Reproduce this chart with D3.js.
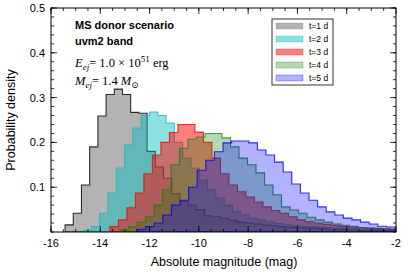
<!DOCTYPE html>
<html>
<head>
<meta charset="utf-8">
<script src="https://cdn.jsdelivr.net/npm/d3@7"></script>
<style>
body { margin: 0; background: #fff; }
text { font-family: "Liberation Sans", Arial, sans-serif; }
</style>
</head>
<body>
<svg id="chart" width="408" height="274"></svg>
<script>
var svg = d3.select('svg#chart');

// histogram data: first bin edge (mag), bin width (mag), densities
var labels = ["t=1 d", "t=2 d", "t=3 d", "t=4 d", "t=5 d"];
var starts = [-15.43, -14.70, -13.61, -13.20, -12.51];
var widths = [0.333, 0.337, 0.345, 0.345, 0.349];

var d1 = [0.016, 0.042, 0.105, 0.19, 0.259, 0.307, 0.319, 0.307, 0.267, 0.265,
          0.18, 0.145, 0.12, 0.085, 0.068, 0.06, 0.05, 0.036, 0.034, 0.03,
          0.026, 0.022, 0.02, 0.018, 0.016, 0.014, 0.012, 0.011, 0.01, 0.009,
          0.008, 0.007, 0.006, 0.006, 0.005, 0.005, 0.004, 0.004, 0.003, 0.003];
var d2 = [0.004, 0.012, 0.042, 0.087, 0.143, 0.194, 0.232, 0.26, 0.268, 0.26,
          0.243, 0.2, 0.165, 0.143, 0.116, 0.094, 0.076, 0.06, 0.045, 0.038,
          0.031, 0.027, 0.022, 0.019, 0.017, 0.015, 0.013, 0.012, 0.011, 0.01,
          0.009, 0.008, 0.007, 0.006, 0.006, 0.005, 0.005, 0.004];
var d3v = [0.012, 0.027, 0.054, 0.087, 0.13, 0.172, 0.2, 0.222, 0.24, 0.24,
           0.223, 0.2, 0.165, 0.13, 0.105, 0.09, 0.078, 0.067, 0.056, 0.048,
           0.042, 0.034, 0.027, 0.023, 0.02, 0.017, 0.015, 0.013, 0.011, 0.01,
           0.009, 0.008, 0.007, 0.006];
var d4 = [0.005, 0.012, 0.022, 0.034, 0.06, 0.094, 0.15, 0.187, 0.207, 0.212,
          0.22, 0.22, 0.21, 0.19, 0.165, 0.15, 0.132, 0.105, 0.083, 0.056,
          0.049, 0.042, 0.033, 0.027, 0.022, 0.018, 0.015, 0.013, 0.01, 0.008,
          0.007, 0.006, 0.005];
var d5 = [0.006, 0.012, 0.02, 0.038, 0.06, 0.071, 0.1, 0.138, 0.16, 0.179,
          0.199, 0.203, 0.203, 0.199, 0.183, 0.172, 0.156, 0.134, 0.107, 0.087,
          0.071, 0.056, 0.045, 0.038, 0.031, 0.027, 0.022, 0.018, 0.013, 0.011];
var dens = [d1, d2, d3v, d4, d5];

var xTicks = [-16, -14, -12, -10, -8, -6, -4, -2];
var yTicks = [0.1, 0.2, 0.3, 0.4, 0.5];

var fills = ["#808080", "#00bfbf", "#ff0000", "#008000", "#0000ff"];
var fillOp = [0.6, 0.45, 0.5, 0.3, 0.3];
var edges = ["#000000", "#20b8b8", "#ff0000", "#108810", "#0000ff"];

var pLeft = 51, pRight = 396, pTop = 8, pBottom = 232;
var x = d3.scaleLinear().domain([-16, -2]).range([pLeft, pRight]);
var y = d3.scaleLinear().domain([0, 0.5]).range([pBottom, pTop]);

svg.append('clipPath').attr('id', 'plotclip')
  .append('rect').attr('x', pLeft).attr('y', pTop)
  .attr('width', pRight - pLeft).attr('height', pBottom - pTop);

var g = svg.append('g').attr('clip-path', 'url(#plotclip)');

function step_path(start, w, vals){
    var pts = [[start, 0]];
    for (var i=0; i<vals.length; i+=1){
        pts.push([start + i * w, vals[i]]);
        pts.push([start + (i + 1) * w, vals[i]]);
    }
    pts.push([start + vals.length * w, 0]);
    return d3.line().x(function(d){ return x(d[0]); }).y(function(d){ return y(d[1]); })(pts) + 'Z';
}

for (var s=0; s<dens.length; s+=1){
    g.append('path')
      .attr('d', step_path(starts[s], widths[s], dens[s]))
      .attr('fill', fills[s]).attr('fill-opacity', fillOp[s])
      .attr('stroke', edges[s]).attr('stroke-opacity', 0.8)
      .attr('stroke-width', 1.1);
}

// frame
svg.append('rect').attr('x', pLeft).attr('y', pTop)
  .attr('width', pRight - pLeft).attr('height', pBottom - pTop)
  .attr('fill', 'none').attr('stroke', '#000').attr('stroke-width', 1);

// ticks inside on all four sides
var xMinor = d3.range(-16, -2.01, 0.5);
var yMinor = d3.range(0, 0.501, 0.02);
var axes = svg.append('g').attr('stroke', '#000').attr('stroke-width', 0.8);

function tick_x(v, len){
    axes.append('line').attr('x1', x(v)).attr('x2', x(v)).attr('y1', pBottom).attr('y2', pBottom - len);
    axes.append('line').attr('x1', x(v)).attr('x2', x(v)).attr('y1', pTop).attr('y2', pTop + len);
}
function tick_y(v, len){
    axes.append('line').attr('y1', y(v)).attr('y2', y(v)).attr('x1', pLeft).attr('x2', pLeft + len);
    axes.append('line').attr('y1', y(v)).attr('y2', y(v)).attr('x1', pRight).attr('x2', pRight - len);
}
xMinor.forEach(function(v){ tick_x(v, 3); });
xTicks.forEach(function(v){ tick_x(v, 6); });
yMinor.forEach(function(v){ tick_y(v, 3); });
yTicks.forEach(function(v){ tick_y(v, 6); });

svg.selectAll('text.xt').data(xTicks).enter().append('text')
  .attr('x', function(d){ return x(d); }).attr('y', 247)
  .attr('text-anchor', 'middle').attr('font-size', 11)
  .text(function(d){ return String(d); });

svg.selectAll('text.yt').data(yTicks).enter().append('text')
  .attr('x', 45).attr('y', function(d){ return y(d) + 4; })
  .attr('text-anchor', 'end').attr('font-size', 11)
  .text(function(d){ return d.toFixed(1); });

svg.append('text').attr('x', 224).attr('y', 266).attr('text-anchor', 'middle')
  .attr('font-size', 12.5).text('Absolute magnitude (mag)');
svg.append('text').attr('transform', 'translate(15,' + ((pTop + pBottom) / 2) + ') rotate(-90)')
  .attr('text-anchor', 'middle').attr('font-size', 12.5).text('Probability density');

// annotation
svg.append('text').attr('x', 75).attr('y', 29).attr('font-size', 11)
  .attr('font-weight', 'bold').text('MS donor scenario');
svg.append('text').attr('x', 75).attr('y', 45).attr('font-size', 11)
  .attr('font-weight', 'bold').text('uvm2 band');

var serif = '"Liberation Serif", "DejaVu Serif", serif';
var t1 = svg.append('text').attr('x', 75).attr('y', 67).attr('font-size', 12.5)
  .style('font-family', serif);
t1.append('tspan').attr('font-style', 'italic').text('E');
t1.append('tspan').attr('font-style', 'italic').attr('font-size', 9).attr('dy', 3).text('ej');
t1.append('tspan').attr('dy', -3).text('= 1.0 × 10');
t1.append('tspan').attr('font-size', 9).attr('dy', -5).text('51');
t1.append('tspan').attr('dy', 5).text(' erg');

var t2 = svg.append('text').attr('x', 75).attr('y', 85).attr('font-size', 12.5)
  .style('font-family', serif);
t2.append('tspan').attr('font-style', 'italic').text('M');
t2.append('tspan').attr('font-style', 'italic').attr('font-size', 9).attr('dy', 3).text('ej');
t2.append('tspan').attr('dy', -3).text('= 1.4 ');
t2.append('tspan').attr('font-style', 'italic').text('M');
t2.append('tspan').attr('font-size', 9).attr('dy', 3).text('⊙');

// legend
var lg = svg.append('g');
lg.append('rect').attr('x', 272).attr('y', 19).attr('width', 61).attr('height', 66)
  .attr('fill', '#fff').attr('stroke', '#000').attr('stroke-width', 0.8);
labels.forEach(function(lab, i){
    var yy = 26 + i * 13;
    lg.append('rect').attr('x', 276).attr('y', yy - 3).attr('width', 27).attr('height', 6)
      .attr('fill', fills[i]).attr('fill-opacity', fillOp[i])
      .attr('stroke', fills[i]).attr('stroke-opacity', 0.35).attr('stroke-width', 0.8);
    lg.append('text').attr('x', 309).attr('y', yy + 3).attr('font-size', 8.5).text(lab);
});
</script>
</body>
</html>
